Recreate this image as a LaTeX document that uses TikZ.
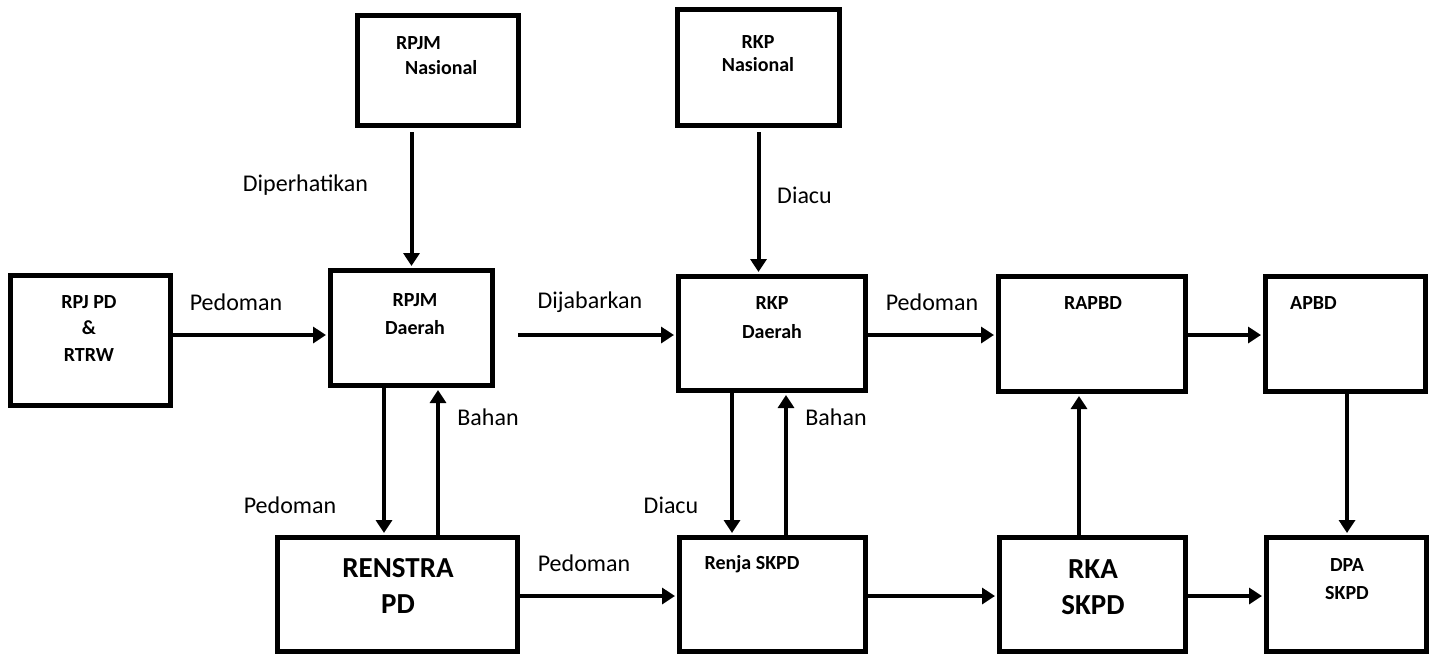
\documentclass[tikz,border=0pt]{standalone}
\usepackage{fontspec}
\setmainfont{Carlito}
\usetikzlibrary{arrows.meta}

\begin{document}
\begin{tikzpicture}[x=0.5pt,y=-0.5pt,
  box/.style n args={2}{draw,line width=2.5pt,minimum width=#1pt,minimum height=#2pt,inner sep=0pt},
  arr/.style={line width=2pt,-{Triangle[length=6.5pt,width=8pt]},shorten >=1pt},
  txt/.style={font=\fontsize{12}{14}\selectfont},
  lbl/.style={font=\bfseries\fontsize{10}{14}\selectfont,align=center},
  big/.style={font=\bfseries\fontsize{14.5}{18}\selectfont,align=center}]
\fill[white] (0,0) rectangle (1434,655);
% boxes
\node[box={80}{65}]   (rpjpd)   at (90.5,340.5) {};
\node[box={80.5}{55}] (rpjmn)   at (438,70.5) {};
\node[box={81}{57.5}] (rpjmd)   at (411.5,328) {};
\node[box={81}{58}]   (rkpn)    at (758.5,67.5) {};
\node[box={93.5}{57}] (rkpd)    at (772,333.5) {};
\node[box={93.5}{57.5}] (rapbd) at (1092,334) {};
\node[box={80}{57.5}] (apbd)    at (1345.5,334) {};
\node[box={120}{57}]  (renstra) at (397.5,594.5) {};
\node[box={93}{57}]   (renja)   at (772.5,594.5) {};
\node[box={93}{57}]   (rka)     at (1092.5,594.5) {};
\node[box={80}{57}]   (dpa)     at (1346.5,594.5) {};
\node[lbl,font=\bfseries\fontsize{10}{13.25}\selectfont] (rpjpd-t) at (89,328.5) {RPJ PD\\\&\\RTRW};
\node[lbl,align=left,anchor=west,font=\bfseries\fontsize{10}{12.5}\selectfont] (rpjmn-t) at (389,55.5) {RPJM\\\hspace{4.5pt}Nasional};
\node[lbl] (rpjmd-t) at (415,314) {RPJM\\Daerah};
\node[lbl,font=\bfseries\fontsize{10}{11.5}\selectfont] (rkpn-t) at (758,53.5) {RKP\\Nasional};
\node[lbl,font=\bfseries\fontsize{10}{14.5}\selectfont] (rkpd-t) at (772,317.5) {RKP\\Daerah};
\node[lbl] (rapbd-t) at (1093,303) {RAPBD};
\node[lbl] (apbd-t) at (1313.5,303) {APBD};
\node[big] (renstra-t) at (398,586) {RENSTRA\\PD};
\node[lbl] (renja-t) at (752,564) {Renja SKPD};
\node[big] (rka-t) at (1093,587) {RKA\\SKPD};
\node[lbl] (dpa-t) at (1347,579) {DPA\\SKPD};
% labels
\node[txt] (ped1) at (236,302) {Pedoman};
\node[txt] (dip)  at (305.5,185) {Diperhatikan};
\node[txt] (diacu1) at (804.5,195) {Diacu};
\node[txt] (dij)  at (590,302) {Dijabarkan};
\node[txt] (ped2) at (932,302) {Pedoman};
\node[txt] (bahan1) at (488,417) {Bahan};
\node[txt] (bahan2) at (836,417) {Bahan};
\node[txt] (ped3) at (290,505) {Pedoman};
\node[txt] (diacu2) at (671,505) {Diacu};
\node[txt] (ped4) at (584,563) {Pedoman};
% arrows
\coordinate (top) at (518,335);
\coordinate (bot) at (0,596);
\draw[arr] (rpjpd.east |- top) -- (rpjmd.west |- top);
\draw[arr] (top) -- (rkpd.west |- top);
\draw[arr] (rkpd.east |- top) -- (rapbd.west |- top);
\draw[arr] (rapbd.east |- top) -- (apbd.west |- top);
\draw[arr] (renstra.east |- bot) -- (renja.west |- bot);
\draw[arr] (renja.east |- bot) -- (rka.west |- bot);
\draw[arr] (rka.east |- bot) -- (dpa.west |- bot);
\draw[arr,shorten <=2pt] (rpjmn.south -| rpjmd.north) -- (rpjmd.north);
\draw[arr,shorten <=2pt] (rkpn.south) -- (rkpn.south |- rkpd.north);
\foreach \xx/\a/\b in {384/rpjmd/renstra,732/rkpd/renja,1347/apbd/dpa}
  \draw[arr] (\a.south -| \xx,0) -- (\b.north -| \xx,0);
\foreach \xx/\a/\b in {438/renstra/rpjmd,786/renja/rkpd,1079/rka/rapbd}
  \draw[arr] (\a.north -| \xx,0) -- (\b.south -| \xx,0);
\end{tikzpicture}
\end{document}
